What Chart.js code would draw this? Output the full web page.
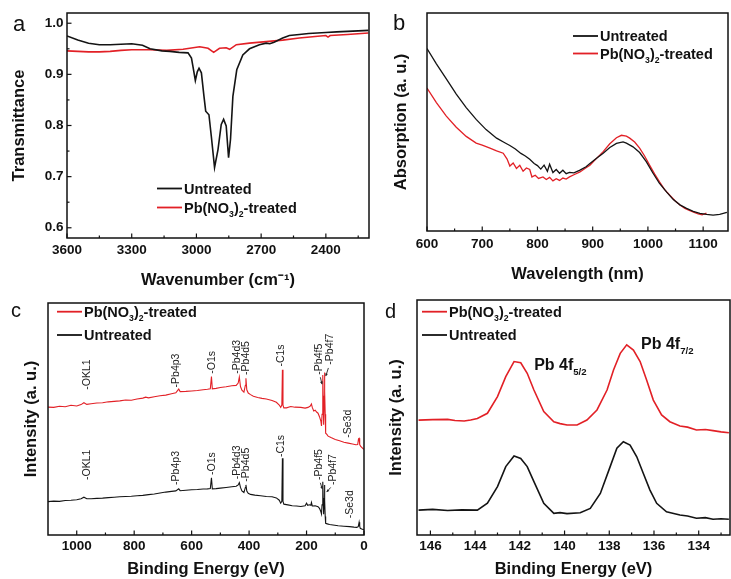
<!DOCTYPE html>
<html><head><meta charset="utf-8">
<script src="https://cdn.jsdelivr.net/npm/chart.js@4.4.1/dist/chart.umd.min.js"></script>
<style>
html,body{margin:0;padding:0;background:#fff;}
body{width:731px;height:579px;position:relative;overflow:hidden;font-family:"Liberation Sans",Arial,sans-serif;}
.pan{position:absolute;}
.pan canvas{display:block;}
.lbl{position:absolute;line-height:1;color:#111;}
</style></head><body>
<div class="pan" style="left:0;top:0;width:370px;height:290px"><canvas id="ca" width="370" height="290"></canvas></div>
<div class="pan" style="left:370px;top:0;width:361px;height:290px"><canvas id="cb" width="361" height="290"></canvas></div>
<div class="pan" style="left:0;top:290px;width:380px;height:289px"><canvas id="cc" width="380" height="289"></canvas></div>
<div class="pan" style="left:380px;top:290px;width:351px;height:289px"><canvas id="cd" width="351" height="289"></canvas></div>
<div class="lbl" style="left:13px;top:13px;font-size:22px">a</div>
<div class="lbl" style="left:393px;top:12px;font-size:22px">b</div>
<div class="lbl" style="left:11px;top:300px;font-size:20px">c</div>
<div class="lbl" style="left:385px;top:301px;font-size:20px">d</div>
<script>
// ---------------- DATA ----------------
const seriesNames = ['Untreated', 'Pb(NO3)2-treated'];

// (a) FTIR
const ftirUntreatedWn = [3600,3550,3500,3450,3400,3350,3300,3250,3215,3160,3123,3080,3039,3023,3016,3005,2996,2988,2977,2965,2957,2942,2931,2916,2900,2885,2874,2862,2851,2842,2831,2813,2785,2754,2708,2677,2660,2640,2600,2569,2523,2480,2440,2400,2350,2300,2250,2203];
const ftirUntreatedT  = [0.975,0.967,0.961,0.958,0.958,0.959,0.960,0.957,0.950,0.946,0.945,0.943,0.942,0.932,0.915,0.888,0.905,0.912,0.903,0.857,0.828,0.821,0.779,0.718,0.753,0.802,0.812,0.799,0.737,0.773,0.857,0.909,0.938,0.950,0.958,0.961,0.960,0.963,0.971,0.976,0.978,0.980,0.981,0.982,0.983,0.984,0.985,0.986];
const ftirTreatedWn = [3600,3550,3500,3450,3400,3350,3300,3250,3215,3138,3062,2985,2946,2920,2893,2862,2846,2815,2754,2677,2600,2523,2450,2400,2390,2380,2300,2203];
const ftirTreatedT  = [0.946,0.945,0.944,0.944,0.945,0.947,0.948,0.948,0.948,0.947,0.949,0.954,0.951,0.943,0.951,0.952,0.949,0.958,0.961,0.964,0.967,0.971,0.974,0.976,0.973,0.976,0.978,0.981];
const ftirXMajor = [2400,2700,3000,3300,3600];
const ftirXMinor = [2250,2550,2850,3150,3450];
const ftirYMajor = [0.6,0.7,0.8,0.9,1.0];
const ftirYMinor = [0.65,0.75,0.85,0.95];

// (b) Absorption (arbitrary units)
const absUntreatedNm = [600,617,635,653,671,689,707,726,740,750,760,770,778,786,794,800,806,812,818,822,828,834,840,846,852,858,866,877,888,895,907,919,931,943,955,961,973,985,997,1009,1021,1034,1046,1058,1070,1082,1094,1106,1118,1130,1143];
const absUntreatedA  = [83.7,76.7,69.8,62.8,56.6,51.2,46.5,42.6,40.6,39.2,37.6,35.6,34.4,32.9,31.0,30.0,28.4,30.2,27.4,30.6,26.8,28.2,26.5,27.9,26.3,26.9,26.7,27.9,29.5,31.0,33.4,35.7,38.3,40.2,40.9,40.3,38.6,36.0,31.8,26.6,21.8,17.8,14.4,12.0,10.4,9.0,8.1,7.6,7.3,7.6,8.5];
const absTreatedNm = [600,617,635,653,671,689,700,714,726,738,745,750,756,762,768,774,780,786,790,796,802,810,816,822,828,834,840,846,852,858,866,877,888,895,907,919,931,943,952,961,967,976,985,994,1003,1012,1021,1030,1040,1049,1058,1067,1076,1085,1091,1098,1106];
const absTreatedA  = [65.6,58.9,52.7,47.6,43.4,40.3,39.4,38.0,36.8,35.7,33.0,29.8,31.2,28.7,30.1,27.4,28.9,28.2,24.8,25.6,24.1,24.8,23.6,24.6,23.0,24.0,23.2,24.3,23.8,24.8,25.8,27.1,29.0,30.2,33.3,36.4,40.0,42.8,43.9,43.5,42.6,40.8,38.0,34.4,30.2,26.2,22.5,19.1,16.3,13.9,11.9,10.4,9.3,8.4,7.8,7.4,8.2];
const absXMajor = [600,700,800,900,1000,1100];
const absXMinor = [650,750,850,950,1050];

// (c) XPS survey (arbitrary units)
const surveyTreatedBE = [1100,1080,1060,1040,1020,1000,985,975,965,950,930,910,890,870,850,830,810,790,770,760,750,730,710,690,670,655,645,640,620,600,580,560,545,535,531,528,515,500,480,460,445,438,434,430,425,418,413,411,408,403,395,385,370,355,340,320,305,295,290,286,284,282,279,270,255,240,220,205,195,187,183,180,175,170,165,160,155,150,148,146,144,143,142,141,140,139,138,137,136,135,134,133,130,125,115,100,85,70,55,40,28,22,19,17,15,12,8,3,0];
const surveyTreatedI  = [55.1,55.0,55.5,55.3,55.9,55.6,56.2,57.0,56.3,56.6,56.9,57.0,57.4,57.6,57.8,58.2,58.1,58.6,59.0,59.4,59.1,59.6,60.0,60.3,60.9,61.3,62.9,61.8,61.9,62.1,62.3,62.6,62.8,63.0,68.3,63.0,63.2,63.6,63.9,64.3,64.5,65.5,68.1,64.0,62.4,61.6,64.5,67.6,62.6,61.2,60.5,59.8,59.3,58.9,58.6,58.0,57.2,56.0,55.0,56.0,71.2,56.0,54.8,54.8,55.4,55.1,55.0,54.7,55.0,55.6,56.5,55.0,53.5,53.8,53.0,52.5,51.0,49.0,47.0,52.0,62.0,69.0,60.0,50.0,47.5,55.0,68.0,70.0,62.0,52.0,45.0,43.9,43.5,42.6,42.0,41.2,40.6,40.0,39.6,39.2,38.9,39.0,41.5,41.7,39.0,38.3,37.8,37.2,37.0];
const surveyUntreatedBE = [1100,1080,1060,1040,1020,1000,985,975,965,950,930,910,890,870,850,830,810,790,770,750,730,710,690,670,655,645,640,620,600,580,560,545,535,531,528,515,500,480,460,445,438,434,430,425,418,413,411,408,403,395,380,360,340,320,305,295,290,286,284,282,279,265,250,235,220,205,200,196,190,185,183,180,170,160,155,150,148,146,144,143,142,141,140,139,138,137,136,135,134,133,128,120,108,90,70,50,35,25,20,17,15,13,8,3,0];
const surveyUntreatedI  = [14.4,14.6,14.5,14.9,15.0,15.2,15.6,16.3,15.6,15.6,15.8,15.9,16.1,16.3,16.5,16.6,16.7,16.9,17.1,17.4,17.7,18.1,18.5,18.8,19.0,19.9,19.1,19.3,19.5,19.6,19.8,19.9,20.0,24.7,19.9,20.0,20.2,20.5,20.8,21.0,21.6,22.6,20.5,19.0,18.3,20.5,21.6,18.9,18.0,17.5,17.2,16.9,16.6,16.5,16.0,15.0,13.7,14.5,33.1,14.5,13.3,13.0,12.6,12.5,12.3,12.6,13.7,12.8,13.0,12.8,14.0,12.5,12.6,12.2,11.5,10.0,9.1,13.0,19.0,23.0,16.0,10.0,9.0,14.0,19.5,21.5,15.0,8.0,5.2,5.0,4.8,4.5,4.3,4.0,3.8,3.6,3.4,3.3,3.6,5.5,3.8,2.9,2.6,2.4,2.4];
const surveyXMajor = [0,200,400,600,800,1000];
const surveyXMinor = [100,300,500,700,900];
const peakNames        = ['-OKL1','-Pb4p3','-O1s','-Pb4d3','-Pb4d5','-C1s','-Pb4f5','-Pb4f7','-Se3d'];
const peakLabelBE      = [965,654,530,443,409,287,156,119,56];
const peakLabelTreated = [62.6,63.6,69.5,69.5,69.0,72.6,69.1,73.4,41.9];
const peakLabelBEUnt   = [965,654,530,443,409,287,156,108,50];
const peakLabelUntreated = [23.7,21.6,25.9,24.0,23.0,33.6,23.7,21.5,7.2];
const arrowFromBE = [152,124,152,116];
const arrowFromI  = [68.0,72.0,22.5,20.5];
const arrowToBE   = [146,133,145,130];
const arrowToI    = [65.0,68.5,19.8,18.5];

// (d) XPS Pb 4f (arbitrary units)
const pbTreatedBE = [146.53,145.9,145.23,144.9,144.49,144.2,143.9,143.45,143.0,142.63,142.26,141.96,141.67,141.37,140.93,140.48,140.2,139.89,139.44,139.0,138.55,138.1,137.81,137.51,137.22,136.92,136.62,136.33,136.03,135.66,135.29,134.84,134.5,134.1,133.7,133.36,133.0,132.65];
const pbTreatedI  = [48.9,49.1,49.2,48.7,48.5,48.9,49.6,51.8,58.9,67.4,73.8,73.3,68.8,61.7,52.5,48.2,47.4,46.8,46.8,48.9,53.2,61.7,70.2,77.3,80.9,78.7,73.8,66.0,57.4,51.1,48.2,46.4,45.9,44.7,44.9,44.4,43.9,43.5];
const pbUntreatedBE = [146.53,145.9,145.23,144.6,143.9,143.45,143.0,142.63,142.26,141.96,141.67,141.37,140.93,140.48,140.2,139.89,139.3,138.85,138.4,137.96,137.66,137.37,137.07,136.77,136.48,136.18,135.88,135.44,134.84,134.5,134.1,133.7,133.36,133.0,132.65];
const pbUntreatedI  = [10.6,10.9,10.4,10.7,10.6,13.5,20.6,29.1,33.6,32.6,29.1,22.7,13.5,9.2,9.5,9.1,9.5,11.3,17.7,29.1,36.9,39.7,38.3,33.3,26.3,19.1,13.5,9.9,8.5,8.1,7.1,7.4,6.7,6.9,6.7];
const pbXMajor = [134,136,138,140,142,144,146];
const pbXMinor = [133,135,137,139,141,143,145];
const noteMain = ['Pb 4f','Pb 4f'];
const noteSub  = ['5/2','7/2'];
const noteBE   = [141.36,136.58];
const noteI    = [70.2,79.0];

// ---------------- HELPERS ----------------
const FONT = '"Liberation Sans", Arial, sans-serif';
const RED = 'rgb(226,32,38)';
const BLACK = '#141414';
const pts = (xs, ys) => xs.map((x, i) => ({x, y: ys[i]}));

function richSegs(text) {
  const out = []; let buf = '';
  for (let i = 0; i < text.length; i++) {
    const c = text[i];
    if (/\d/.test(c) && i > 0 && /[A-Za-z)]/.test(text[i - 1])) {
      if (buf) out.push({t: buf}); buf = '';
      out.push({t: c, sub: true});
    } else buf += c;
  }
  if (buf) out.push({t: buf});
  return out;
}
function drawRich(ctx, segs, x, y, size, weight, color, subScale) {
  ctx.fillStyle = color; ctx.textAlign = 'left'; ctx.textBaseline = 'alphabetic';
  let cx = x;
  segs.forEach(s => {
    const fs = s.sub ? size * (subScale || 0.6) : size;
    ctx.font = weight + ' ' + fs + 'px ' + FONT;
    ctx.fillText(s.t, cx, y + (s.sub ? size * 0.28 : 0));
    cx += ctx.measureText(s.t).width;
  });
}

const decor = {
  id: 'decor',
  afterDatasetsDraw(chart, args, o) {
    const {ctx, chartArea: ca, scales} = chart;
    ctx.save();
    // frame
    ctx.strokeStyle = '#111'; ctx.lineWidth = 1.5;
    ctx.strokeRect(ca.left, ca.top, ca.right - ca.left, ca.bottom - ca.top);
    // inward ticks
    ctx.lineWidth = 1.2;
    const xs = scales.x;
    xs.ticks.forEach(t => {
      const px = xs.getPixelForValue(t.value);
      const len = t.label !== '' ? 4.5 : 2.5;
      ctx.beginPath(); ctx.moveTo(px, ca.bottom); ctx.lineTo(px, ca.bottom - len); ctx.stroke();
    });
    if (o.yTicks) {
      const ys = scales.y;
      ys.ticks.forEach(t => {
        const py = ys.getPixelForValue(t.value);
        const len = t.label !== '' ? 4.5 : 2.5;
        ctx.beginPath(); ctx.moveTo(ca.left, py); ctx.lineTo(ca.left + len, py); ctx.stroke();
      });
    }
    // legend
    if (o.legend) {
      const L = o.legend;
      chart.data.datasets.forEach((ds, i) => {
        const cy = L.y + i * L.dy;
        ctx.strokeStyle = ds.borderColor; ctx.lineWidth = 1.8;
        ctx.beginPath(); ctx.moveTo(L.x, cy); ctx.lineTo(L.x + L.len, cy); ctx.stroke();
        drawRich(ctx, richSegs(ds.label), L.x + L.len + 2, cy + L.size * 0.36, L.size, 'bold', '#111');
      });
    }
    // peak labels (rotated)
    if (o.peaks) {
      ctx.font = o.peaks.size + 'px ' + FONT;
      ctx.fillStyle = '#222'; ctx.textAlign = 'left'; ctx.textBaseline = 'middle';
      o.peaks.sets.forEach(set => {
        set.names.forEach((n, i) => {
          const px = xs.getPixelForValue(set.x[i]);
          const py = scales.y.getPixelForValue(set.y[i]);
          ctx.save(); ctx.translate(px, py); ctx.rotate(-Math.PI / 2);
          ctx.fillText(n, 0, 0); ctx.restore();
        });
      });
    }
    // small arrows
    if (o.arrows) {
      const A = o.arrows;
      ctx.strokeStyle = '#222'; ctx.fillStyle = '#222'; ctx.lineWidth = 0.9;
      A.fx.forEach((fx, i) => {
        const x1 = xs.getPixelForValue(fx), y1 = scales.y.getPixelForValue(A.fy[i]);
        const x2 = xs.getPixelForValue(A.tx[i]), y2 = scales.y.getPixelForValue(A.ty[i]);
        ctx.beginPath(); ctx.moveTo(x1, y1); ctx.lineTo(x2, y2); ctx.stroke();
        const ang = Math.atan2(y2 - y1, x2 - x1), h = 3;
        ctx.beginPath(); ctx.moveTo(x2, y2);
        ctx.lineTo(x2 - h * Math.cos(ang - 0.5), y2 - h * Math.sin(ang - 0.5));
        ctx.lineTo(x2 - h * Math.cos(ang + 0.5), y2 - h * Math.sin(ang + 0.5));
        ctx.closePath(); ctx.fill();
      });
    }
    // annotations
    if (o.notes) {
      o.notes.main.forEach((m, i) => {
        const px = xs.getPixelForValue(o.notes.x[i]);
        const py = scales.y.getPixelForValue(o.notes.y[i]);
        drawRich(ctx, [{t: m}, {t: o.notes.sub[i], sub: true}], px, py, 16, 'bold', '#111', 0.6);
      });
    }
    ctx.restore();
  }
};

function ticksFor(major, minor, fmt) {
  return {
    afterBuildTicks: s => { s.ticks = major.concat(minor).sort((a, b) => a - b).map(v => ({value: v})); },
    ticks: {
      autoSkip: false, maxRotation: 0, minRotation: 0,
      color: '#111', font: {family: FONT, size: 13.5, weight: 'bold'},
      callback: v => major.includes(v) ? fmt(v) : ''
    }
  };
}
const titleFont = {family: FONT, size: 16.5, weight: 'bold'};

function lineDs(label, data, color, w) {
  return {label, data, borderColor: color, backgroundColor: color, borderWidth: w, pointRadius: 0, tension: 0, fill: false};
}

function makeChart(id, cfg) {
  const base = {
    type: 'line',
    data: {datasets: cfg.datasets},
    options: {
      responsive: false, animation: false, parsing: true,
      layout: {padding: cfg.padding},
      plugins: {legend: {display: false}, tooltip: {enabled: false}, decor: cfg.decor},
      scales: {
        x: Object.assign({
          type: 'linear', min: cfg.xmin, max: cfg.xmax, reverse: cfg.reverse,
          grid: {display: false, drawTicks: false}, border: {display: false},
          title: {display: true, text: cfg.xTitle, color: '#111', font: titleFont, padding: {top: 0, bottom: cfg.xTitlePad}},
          afterFit: s => { s.height = cfg.xHeight; }
        }, cfg.xTicks),
        y: Object.assign({
          type: 'linear', min: cfg.ymin, max: cfg.ymax,
          grid: {display: false, drawTicks: false}, border: {display: false},
          title: {display: true, text: cfg.yTitle, color: '#111', font: titleFont, padding: {top: cfg.yTitlePad, bottom: 0}},
          afterFit: s => { s.width = cfg.yWidth; }
        }, cfg.yTicks || {ticks: {display: false}})
      }
    },
    plugins: [decor]
  };
  base.options.scales.x.ticks.padding = cfg.xTickPad;
  if (cfg.yTicks) base.options.scales.y.ticks.padding = 3.5;
  return new Chart(document.getElementById(id), base);
}

// (a)
makeChart('ca', {
  datasets: [
    lineDs(seriesNames[0], pts(ftirUntreatedWn, ftirUntreatedT), BLACK, 1.6),
    lineDs(seriesNames[1], pts(ftirTreatedWn, ftirTreatedT), RED, 1.6)
  ],
  padding: {top: 13, right: 1, left: 0, bottom: 0},
  xmin: 2200, xmax: 3600, reverse: true, ymin: 0.58, ymax: 1.02,
  xTitle: 'Wavenumber (cm\u207B\u00B9)', yTitle: 'Transmittance',
  xHeight: 52, yWidth: 67, xTitlePad: 0, yTitlePad: 10, xTickPad: 4.5,
  xTicks: ticksFor(ftirXMajor, ftirXMinor, v => String(v)),
  yTicks: ticksFor(ftirYMajor, ftirYMinor, v => v.toFixed(1)),
  decor: {yTicks: true, legend: {x: 157, y: 188.5, dy: 19, len: 25, size: 14.5}}
});

// (b)
makeChart('cb', {
  datasets: [
    lineDs(seriesNames[0], pts(absUntreatedNm, absUntreatedA), BLACK, 1.3),
    lineDs(seriesNames[1], pts(absTreatedNm, absTreatedA), RED, 1.3)
  ],
  padding: {top: 13, right: 3, left: 0, bottom: 0},
  xmin: 600, xmax: 1145, reverse: false, ymin: 0, ymax: 100,
  xTitle: 'Wavelength (nm)', yTitle: 'Absorption (a. u.)',
  xHeight: 59, yWidth: 57, xTitlePad: 6, yTitlePad: 22, xTickPad: 5,
  xTicks: ticksFor(absXMajor, absXMinor, v => String(v)),
  decor: {legend: {x: 203, y: 36, dy: 17.5, len: 25, size: 14.5}}
});

// (c)
makeChart('cc', {
  datasets: [
    lineDs(seriesNames[1], pts(surveyTreatedBE, surveyTreatedI), RED, 1.1),
    lineDs(seriesNames[0], pts(surveyUntreatedBE, surveyUntreatedI), BLACK, 1.1)
  ],
  padding: {top: 13, right: 16, left: 0, bottom: 0},
  xmin: 0, xmax: 1100, reverse: true, ymin: 0, ymax: 100,
  xTitle: 'Binding Energy (eV)', yTitle: 'Intensity (a. u.)',
  xHeight: 44, yWidth: 48, xTitlePad: 0, yTitlePad: 22, xTickPad: 3.6,
  xTicks: ticksFor(surveyXMajor, surveyXMinor, v => String(v)),
  decor: {
    legend: {x: 57, y: 21.7, dy: 23.3, len: 25, size: 14.5},
    peaks: {size: 10.5, sets: [
      {names: peakNames, x: peakLabelBE, y: peakLabelTreated},
      {names: peakNames, x: peakLabelBEUnt, y: peakLabelUntreated}
    ]},
    arrows: {fx: arrowFromBE, fy: arrowFromI, tx: arrowToBE, ty: arrowToI}
  }
});

// (d)
makeChart('cd', {
  datasets: [
    lineDs(seriesNames[1], pts(pbTreatedBE, pbTreatedI), RED, 1.6),
    lineDs(seriesNames[0], pts(pbUntreatedBE, pbUntreatedI), BLACK, 1.6)
  ],
  padding: {top: 10, right: 1, left: 0, bottom: 0},
  xmin: 132.6, xmax: 146.6, reverse: true, ymin: 0, ymax: 100,
  xTitle: 'Binding Energy (eV)', yTitle: 'Intensity (a. u.)',
  xHeight: 44, yWidth: 37, xTitlePad: 0, yTitlePad: 7, xTickPad: 3.6,
  xTicks: ticksFor(pbXMajor, pbXMinor, v => String(v)),
  decor: {
    legend: {x: 42, y: 21.7, dy: 23.3, len: 25, size: 14.5},
    notes: {main: noteMain, sub: noteSub, x: noteBE, y: noteI}
  }
});
</script>
</body></html>
